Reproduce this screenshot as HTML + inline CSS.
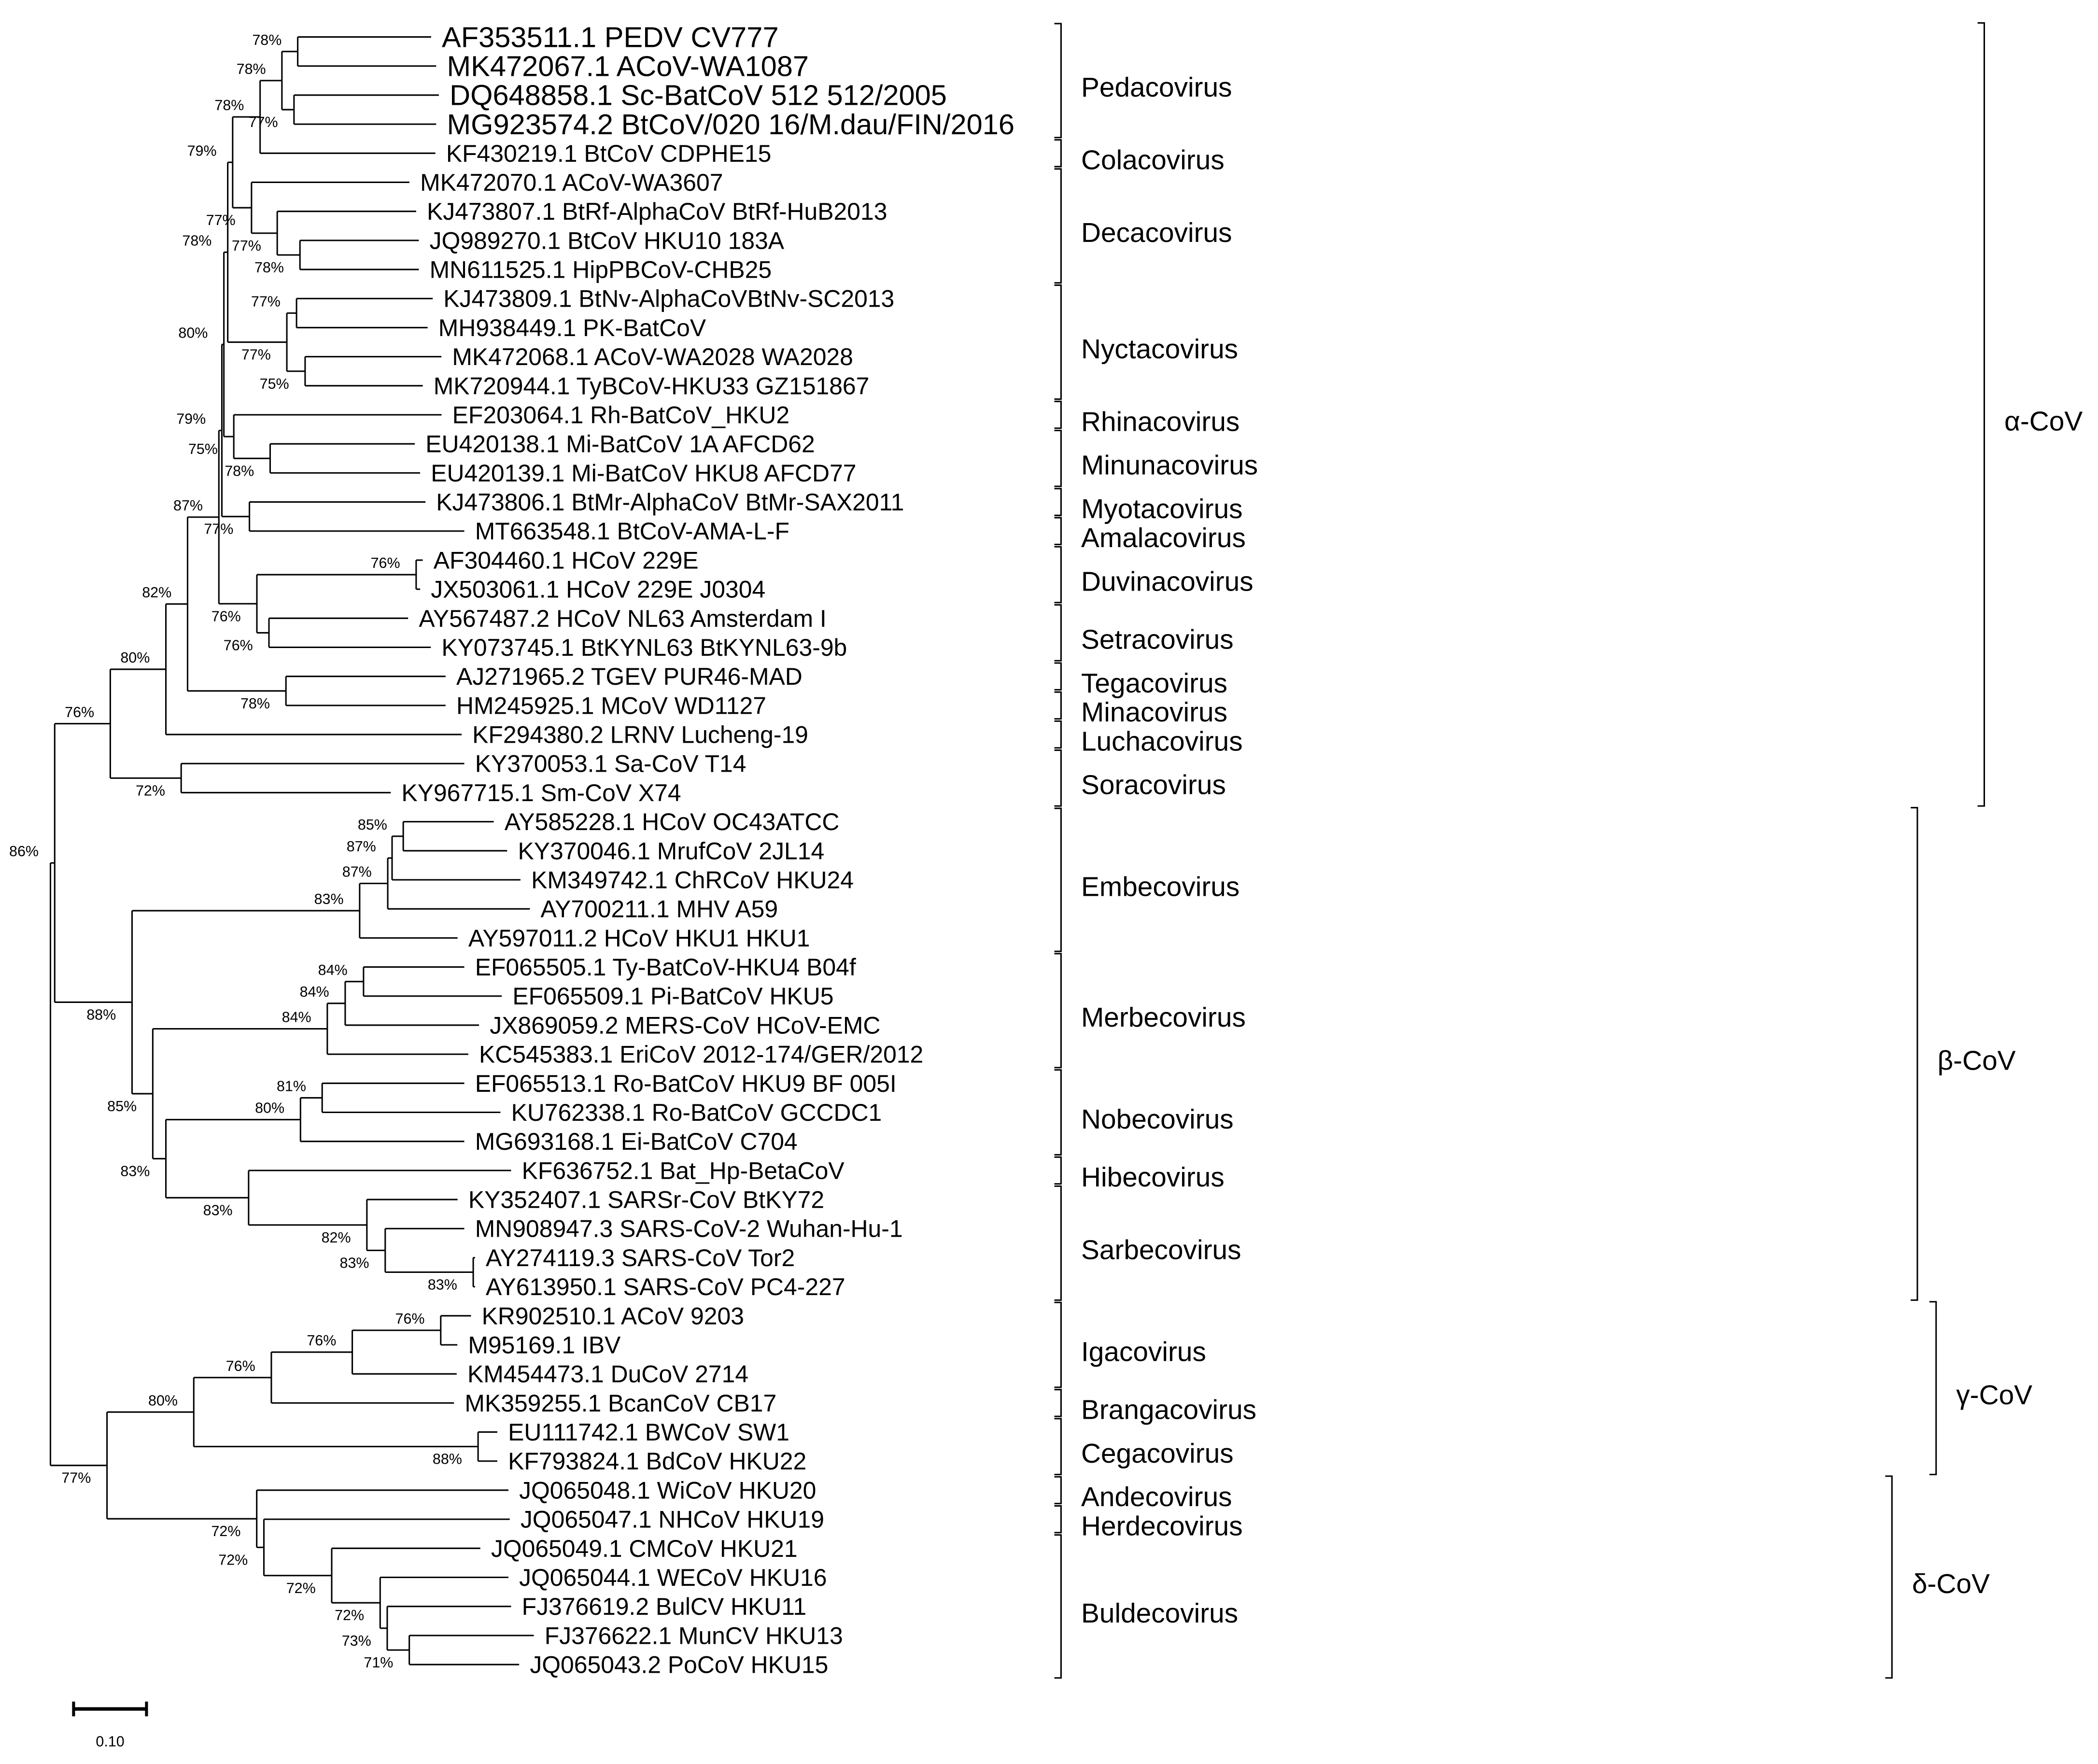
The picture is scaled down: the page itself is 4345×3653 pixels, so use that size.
<!DOCTYPE html>
<html><head><meta charset="utf-8"><style>
html,body{margin:0;padding:0;background:#fff;}
svg{display:block;}
text{font-family:"Liberation Sans",sans-serif;fill:#000;}
</style></head>
<body>
<svg id="chart" xmlns="http://www.w3.org/2000/svg" width="4345" height="3653" viewBox="0 0 1568 1318">
<rect x="0" y="0" width="1568" height="1318" fill="#fff"/>
<g id="branches" stroke="#000" stroke-width="1.1" fill="none"></g>
<g id="supports"></g>
<g id="leaves"></g>
<g id="clades"></g>
<g>
<line x1="54.4" y1="1277" x2="110.1" y2="1277" stroke="#000" stroke-width="2.6"/>
<line x1="55" y1="1271.5" x2="55" y2="1282.5" stroke="#000" stroke-width="2.2"/>
<line x1="109.5" y1="1271.5" x2="109.5" y2="1282.5" stroke="#000" stroke-width="2.2"/>
<text x="82.3" y="1305" font-size="11" text-anchor="middle">0.10</text>
</g>
</svg>
<script>
const leafNames = ["AF353511.1 PEDV CV777","MK472067.1 ACoV-WA1087","DQ648858.1 Sc-BatCoV 512 512/2005","MG923574.2 BtCoV/020 16/M.dau/FIN/2016","KF430219.1 BtCoV CDPHE15","MK472070.1 ACoV-WA3607","KJ473807.1 BtRf-AlphaCoV BtRf-HuB2013","JQ989270.1 BtCoV HKU10 183A","MN611525.1 HipPBCoV-CHB25","KJ473809.1 BtNv-AlphaCoVBtNv-SC2013","MH938449.1 PK-BatCoV","MK472068.1 ACoV-WA2028 WA2028","MK720944.1 TyBCoV-HKU33 GZ151867","EF203064.1 Rh-BatCoV_HKU2","EU420138.1 Mi-BatCoV 1A AFCD62","EU420139.1 Mi-BatCoV HKU8 AFCD77","KJ473806.1 BtMr-AlphaCoV BtMr-SAX2011","MT663548.1 BtCoV-AMA-L-F","AF304460.1 HCoV 229E","JX503061.1 HCoV 229E J0304","AY567487.2 HCoV NL63 Amsterdam I","KY073745.1 BtKYNL63 BtKYNL63-9b","AJ271965.2 TGEV PUR46-MAD","HM245925.1 MCoV WD1127","KF294380.2 LRNV Lucheng-19","KY370053.1 Sa-CoV T14","KY967715.1 Sm-CoV X74","AY585228.1 HCoV OC43ATCC","KY370046.1 MrufCoV 2JL14","KM349742.1 ChRCoV HKU24","AY700211.1 MHV A59","AY597011.2 HCoV HKU1 HKU1","EF065505.1 Ty-BatCoV-HKU4 B04f","EF065509.1 Pi-BatCoV HKU5","JX869059.2 MERS-CoV HCoV-EMC","KC545383.1 EriCoV 2012-174/GER/2012","EF065513.1 Ro-BatCoV HKU9 BF 005I","KU762338.1 Ro-BatCoV GCCDC1","MG693168.1 Ei-BatCoV C704","KF636752.1 Bat_Hp-BetaCoV","KY352407.1 SARSr-CoV BtKY72","MN908947.3 SARS-CoV-2 Wuhan-Hu-1","AY274119.3 SARS-CoV Tor2","AY613950.1 SARS-CoV PC4-227","KR902510.1 ACoV 9203","M95169.1 IBV","KM454473.1 DuCoV 2714","MK359255.1 BcanCoV CB17","EU111742.1 BWCoV SW1","KF793824.1 BdCoV HKU22","JQ065048.1 WiCoV HKU20","JQ065047.1 NHCoV HKU19","JQ065049.1 CMCoV HKU21","JQ065044.1 WECoV HKU16","FJ376619.2 BulCV HKU11","FJ376622.1 MunCV HKU13","JQ065043.2 PoCoV HKU15"];
const leafParent = [12,12,13,13,10,14,15,16,16,18,18,19,19,20,21,21,22,22,24,24,25,25,26,26,3,27,27,32,32,31,30,29,36,36,35,34,39,39,38,40,41,42,43,43,48,48,47,46,49,49,50,51,52,53,54,55,55];
const leafDepth = [0.5108,0.5176,0.5212,0.5176,0.5165,0.4817,0.4907,0.4943,0.4943,0.5129,0.5061,0.5246,0.4996,0.5248,0.4889,0.4960,0.5032,0.5553,0.4996,0.4960,0.4799,0.5104,0.5302,0.5302,0.5517,0.5553,0.4566,0.5948,0.6128,0.6307,0.6433,0.5463,0.5553,0.6056,0.5751,0.5607,0.5553,0.6038,0.5553,0.6181,0.5463,0.5553,0.5697,0.5697,0.5643,0.5460,0.5451,0.5415,0.5996,0.5996,0.6145,0.6163,0.5768,0.6145,0.6181,0.6486,0.6289];
const nodeParent = [-1,0,1,2,3,4,5,6,7,8,9,10,11,11,9,14,15,8,17,17,7,20,6,5,23,23,4,2,1,28,29,30,31,28,33,34,35,33,37,38,37,40,41,42,0,44,45,46,47,45,44,50,51,52,53,54];
const nodeDepth = [0,0.0057,0.0803,0.1549,0.1840,0.2260,0.2300,0.2327,0.2379,0.2445,0.2813,0.3106,0.3318,0.3268,0.2698,0.3043,0.3348,0.3172,0.3302,0.3417,0.2460,0.2948,0.2670,0.2770,0.4907,0.2932,0.3160,0.1754,0.1095,0.4149,0.4526,0.4584,0.4734,0.1373,0.3715,0.3955,0.4201,0.1549,0.3355,0.3646,0.2659,0.4246,0.4492,0.5673,0.0759,0.1923,0.2964,0.4050,0.5237,0.5738,0.2768,0.2864,0.3774,0.4424,0.4519,0.4815];
const nodeSupport = ["","86%","76%","80%","82%","87%","79%","80%","78%","79%","78%","78%","78%","77%","77%","77%","78%","77%","77%","75%","75%","78%","77%","76%","76%","76%","78%","72%","88%","83%","87%","87%","85%","85%","84%","84%","84%","83%","80%","81%","83%","82%","83%","83%","77%","80%","76%","76%","76%","88%","72%","72%","72%","72%","73%","71%"];
const supportBelow = [0,0,0,0,0,0,0,0,0,0,0,0,0,1,1,1,1,1,0,1,1,1,1,1,0,1,1,1,1,0,0,0,0,1,0,0,0,1,0,0,1,1,1,1,1,0,0,0,0,1,1,1,1,1,1,1];
const genusNames = ["Pedacovirus","Colacovirus","Decacovirus","Nyctacovirus","Rhinacovirus","Minunacovirus","Myotacovirus","Amalacovirus","Duvinacovirus","Setracovirus","Tegacovirus","Minacovirus","Luchacovirus","Soracovirus","Embecovirus","Merbecovirus","Nobecovirus","Hibecovirus","Sarbecovirus","Igacovirus","Brangacovirus","Cegacovirus","Andecovirus","Herdecovirus","Buldecovirus"];
const genusFirst = [0,4,5,9,13,14,16,17,18,20,22,23,24,25,27,32,36,39,40,44,47,48,50,51,52];
const genusLast  = [3,4,8,12,13,15,16,17,19,21,22,23,24,26,31,35,38,39,43,46,47,49,50,51,56];
const groupNames = ["α-CoV","β-CoV","γ-CoV","δ-CoV"];
const groupFirst = [0,27,44,50];
const groupLast = [26,43,49,56];

const SVGNS = "http://www.w3.org/2000/svg";
const X0 = 37.7, XS = 557, Y0 = 27.5, YS = 21.72;
function xScale(d){ return X0 + d*XS; }
function yScale(i){ return Y0 + i*YS; }
function mk(tag, attrs, parent){
  const el = document.createElementNS(SVGNS, tag);
  for (const k in attrs) el.setAttribute(k, attrs[k]);
  parent.appendChild(el);
  return el;
}
const gB = document.getElementById('branches');
const gS = document.getElementById('supports');
const gL = document.getElementById('leaves');
const gC = document.getElementById('clades');

const nN = nodeParent.length;
const kids = [];
for (let i=0;i<nN;i++) kids.push([]);
const leafY = leafNames.map((_,i)=>yScale(i));
leafParent.forEach((p,i)=>kids[p].push(leafY[i]));
const nodeY = new Array(nN).fill(null);
function nodeYOf(i){
  if (nodeY[i]!==null) return nodeY[i];
  const ys = kids[i].slice();
  for (let j=0;j<nN;j++) if (nodeParent[j]===i) ys.push(nodeYOf(j));
  nodeY[i] = (Math.min(...ys)+Math.max(...ys))/2;
  return nodeY[i];
}
for (let i=0;i<nN;i++) nodeYOf(i);

for (let i=0;i<nN;i++){
  const ys = kids[i].slice();
  for (let j=0;j<nN;j++) if (nodeParent[j]===i) ys.push(nodeY[j]);
  const x = xScale(nodeDepth[i]);
  const v = mk('line',{x1:x,y1:Math.min(...ys),x2:x,y2:Math.max(...ys)},gB);
  
  
  if (nodeParent[i]>=0){
    const h = mk('line',{x1:xScale(nodeDepth[nodeParent[i]]),y1:nodeY[i],x2:x,y2:nodeY[i]},gB);
    
    
  }
  if (nodeSupport[i]){
    const t = mk('text',{x:x-12,y:supportBelow[i]?nodeY[i]+13:nodeY[i]-5,'font-size':11,'text-anchor':'end'},gS);
    t.textContent = nodeSupport[i];
    
    
  }
}
leafNames.forEach((name,i)=>{
  const x2 = xScale(leafDepth[i]);
  const l = mk('line',{x1:xScale(nodeDepth[leafParent[i]]),y1:leafY[i],x2:x2,y2:leafY[i]},gB);
  
  
  const big = i<4;
  const t = mk('text',{x:x2+8,y:leafY[i]+(big?7.5:6.3),'font-size':big?21.5:18},gL);
  t.textContent = name;
  
  
});
function bracket(x, y1, y2, label, lx, name){
  const p = mk('path',{d:`M${x-5} ${y1} H${x} V${y2} H${x-5}`,stroke:'#000','stroke-width':1.1,fill:'none'},gC);
  
  
  const t = mk('text',{x:lx,y:(y1+y2)/2+12,'font-size':20.5},gC);
  t.textContent = label;
  
  
}
genusNames.forEach((g,i)=>{
  bracket(793, yScale(genusFirst[i])-10, yScale(genusLast[i])+10, g, 808, 'genus-'+g.toLowerCase());
});
const groupX = [1483,1433,1447,1414];
const groupKeys = ['alpha-cov','beta-cov','gamma-cov','delta-cov'];
groupNames.forEach((g,i)=>{
  bracket(groupX[i], yScale(groupFirst[i])-10.5, yScale(groupLast[i])+10, g, groupX[i]+15, groupKeys[i]);
});
</script>
</body></html>
